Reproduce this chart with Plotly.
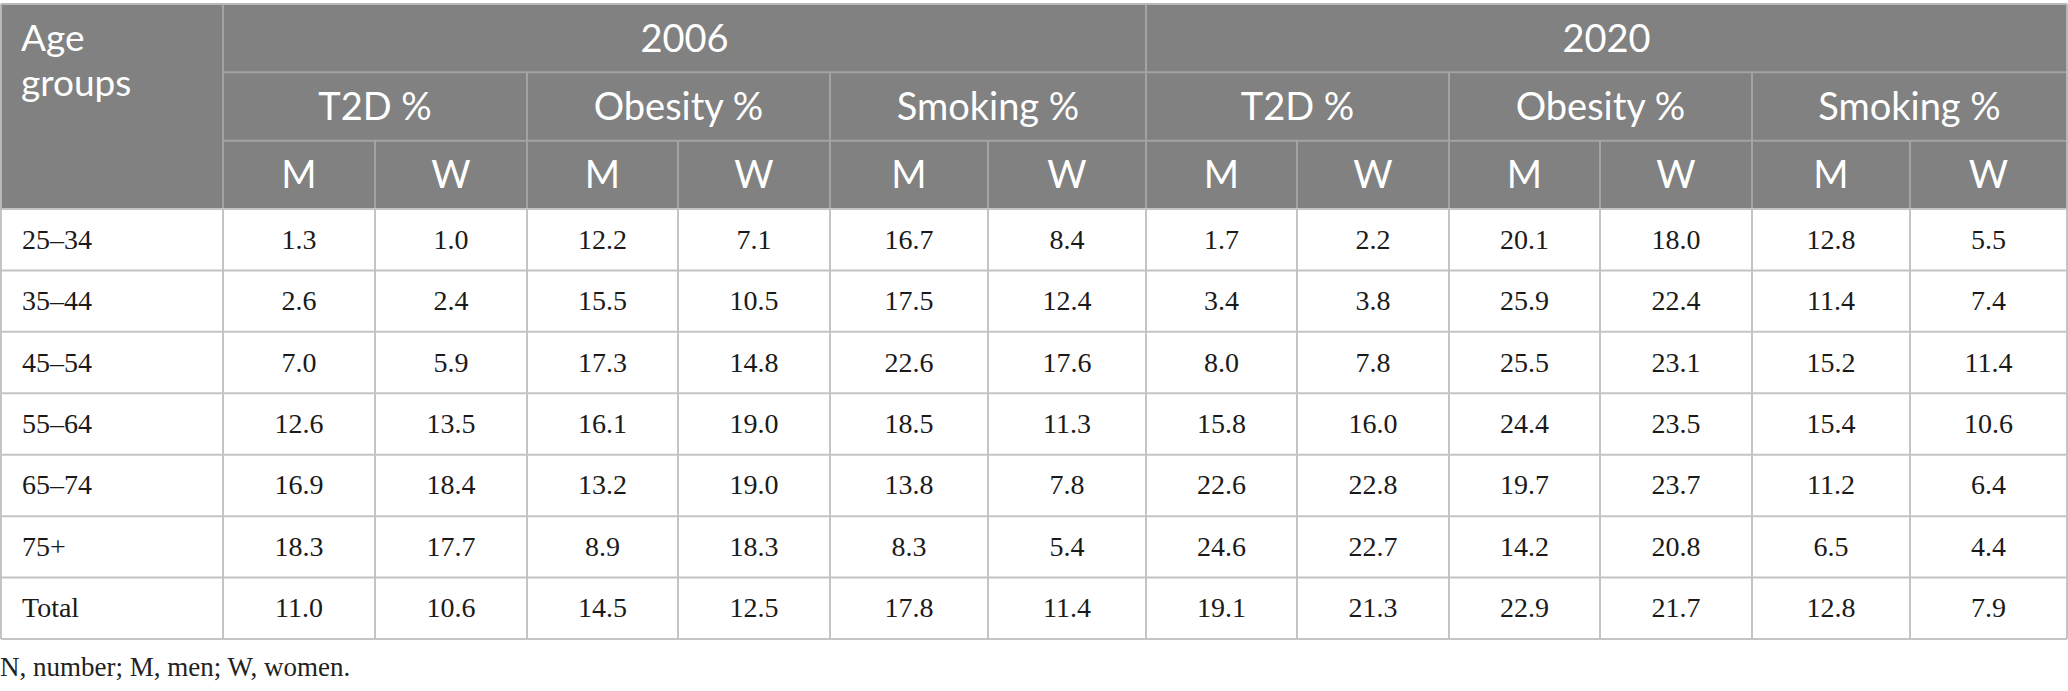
import plotly.graph_objects as go

# ---- table content ----
age_groups = ["25–34", "35–44", "45–54", "55–64", "65–74", "75+", "Total"]
years = ["2006", "2020"]
measures = ["T2D %", "Obesity %", "Smoking %"]
sexes = ["M", "W"]
corner_label = ["Age", "groups"]
footnote = "N, number; M, men; W, women."

t2d_2006_m = [1.3, 2.6, 7.0, 12.6, 16.9, 18.3, 11.0]
t2d_2006_w = [1.0, 2.4, 5.9, 13.5, 18.4, 17.7, 10.6]
obesity_2006_m = [12.2, 15.5, 17.3, 16.1, 13.2, 8.9, 14.5]
obesity_2006_w = [7.1, 10.5, 14.8, 19.0, 19.0, 18.3, 12.5]
smoking_2006_m = [16.7, 17.5, 22.6, 18.5, 13.8, 8.3, 17.8]
smoking_2006_w = [8.4, 12.4, 17.6, 11.3, 7.8, 5.4, 11.4]
t2d_2020_m = [1.7, 3.4, 8.0, 15.8, 22.6, 24.6, 19.1]
t2d_2020_w = [2.2, 3.8, 7.8, 16.0, 22.8, 22.7, 21.3]
obesity_2020_m = [20.1, 25.9, 25.5, 24.4, 19.7, 14.2, 22.9]
obesity_2020_w = [18.0, 22.4, 23.1, 23.5, 23.7, 20.8, 21.7]
smoking_2020_m = [12.8, 11.4, 15.2, 15.4, 11.2, 6.5, 12.8]
smoking_2020_w = [5.5, 7.4, 11.4, 10.6, 6.4, 4.4, 7.9]

value_columns = [
    t2d_2006_m, t2d_2006_w, obesity_2006_m, obesity_2006_w, smoking_2006_m, smoking_2006_w,
    t2d_2020_m, t2d_2020_w, obesity_2020_m, obesity_2020_w, smoking_2020_m, smoking_2020_w,
]

# ---- geometry (pixels, y grows downward) ----
W, H = 2068, 691
LEFT = 1
col_widths = [222, 152, 152, 151, 152, 158, 158, 151, 152, 151, 152, 158, 157]
edges = [LEFT]
for w in col_widths:
    edges.append(edges[-1] + w)
RIGHT = edges[-1]
TOP = 4
HEAD_H = 68.33
BODY_H = 61.43
head_y = [TOP + HEAD_H * i for i in range(4)]
body_y = [head_y[3] + BODY_H * i for i in range(len(age_groups) + 1)]
BOTTOM = body_y[-1]
TEXT_DY = 4  # glyphs sit a little below the cell middle

HEAD_BG = "#808180"
HEAD_LINE = "#a3a3a3"
BODY_LINE = "#c4c4c4"
SANS = "Lato"
SERIF = "Liberation Serif"

def mid(a, b):
    return (a + b) / 2

fig = go.Figure()
shapes = []

# header background
shapes.append(dict(type="rect", x0=LEFT, x1=RIGHT, y0=TOP, y1=head_y[3],
                   fillcolor=HEAD_BG, line=dict(width=0), layer="below"))

def seg(x0, y0, x1, y1, color):
    shapes.append(dict(type="line", x0=x0, y0=y0, x1=x1, y1=y1,
                       line=dict(color=color, width=2)))

# header lines
seg(edges[1], head_y[1], RIGHT, head_y[1], HEAD_LINE)
seg(edges[1], head_y[2], RIGHT, head_y[2], HEAD_LINE)
seg(edges[1], TOP, edges[1], head_y[3], HEAD_LINE)
n_meas = len(measures) * len(sexes)
for k in range(2, len(col_widths)):
    if (k - 1) % n_meas == 0:
        y_start = TOP
    elif (k - 1) % len(sexes) == 0:
        y_start = head_y[1]
    else:
        y_start = head_y[2]
    seg(edges[k], y_start, edges[k], head_y[3], HEAD_LINE)

# body lines
for y in body_y:
    seg(LEFT, y, RIGHT, y, BODY_LINE)
for x in edges:
    seg(x, head_y[3], x, BOTTOM, BODY_LINE)
# outer frame of header
seg(LEFT, TOP, RIGHT, TOP, "#b8b8b8")
seg(LEFT, TOP, LEFT, head_y[3], "#b8b8b8")
seg(RIGHT, TOP, RIGHT, head_y[3], "#b8b8b8")

# header texts
hx, hy, ht = [], [], []
for yi, yr in enumerate(years):
    a = edges[1 + yi * n_meas]
    b = edges[1 + (yi + 1) * n_meas]
    hx.append(mid(a, b)); hy.append(mid(head_y[0], head_y[1]) + TEXT_DY); ht.append(yr)
    for mi, m in enumerate(measures):
        c0 = 1 + yi * n_meas + mi * len(sexes)
        hx.append(mid(edges[c0], edges[c0 + len(sexes)]))
        hy.append(mid(head_y[1], head_y[2]) + TEXT_DY); ht.append(m)
        for si, s in enumerate(sexes):
            hx.append(mid(edges[c0 + si], edges[c0 + si + 1]))
            hy.append(mid(head_y[2], head_y[3]) + TEXT_DY); ht.append(s)
fig.add_trace(go.Scatter(x=hx, y=hy, text=ht, mode="text", textposition="middle center",
                         textfont=dict(family=SANS, size=38, color="white"),
                         hoverinfo="skip", showlegend=False))

fig.add_trace(go.Scatter(x=[LEFT + 20, LEFT + 20], y=[42, 87], text=corner_label, mode="text",
                         textposition="middle right",
                         textfont=dict(family=SANS, size=37, color="white"),
                         hoverinfo="skip", showlegend=False))

# body texts
row_centers = [mid(body_y[i], body_y[i + 1]) + 2 for i in range(len(age_groups))]
fig.add_trace(go.Scatter(x=[LEFT + 21] * len(age_groups), y=row_centers, text=age_groups,
                         mode="text", textposition="middle right",
                         textfont=dict(family=SERIF, size=28, color="#1a1a1a"),
                         hoverinfo="skip", showlegend=False))
bx, by, bt = [], [], []
for j, col in enumerate(value_columns):
    xc = mid(edges[j + 1], edges[j + 2])
    for i, v in enumerate(col):
        bx.append(xc); by.append(row_centers[i]); bt.append(f"{v:.1f}")
fig.add_trace(go.Scatter(x=bx, y=by, text=bt, mode="text", textposition="middle center",
                         textfont=dict(family=SERIF, size=28, color="#1a1a1a"),
                         hoverinfo="skip", showlegend=False))

# footnote
fig.add_trace(go.Scatter(x=[LEFT - 1], y=[669], text=[footnote], mode="text",
                         textposition="middle right",
                         textfont=dict(family=SERIF, size=27, color="#222222"),
                         hoverinfo="skip", showlegend=False))

fig.update_layout(
    width=W, height=H,
    margin=dict(l=0, r=0, t=0, b=0),
    paper_bgcolor="white", plot_bgcolor="white",
    shapes=shapes,
    xaxis=dict(range=[0, W], visible=False, fixedrange=True),
    yaxis=dict(range=[H, 0], visible=False, fixedrange=True),
)

# drop the default page margin so the figure starts at the window corner
fig.write_html("out.html", config={"displayModeBar": False},
               post_script="document.body.style.margin='0px';")
